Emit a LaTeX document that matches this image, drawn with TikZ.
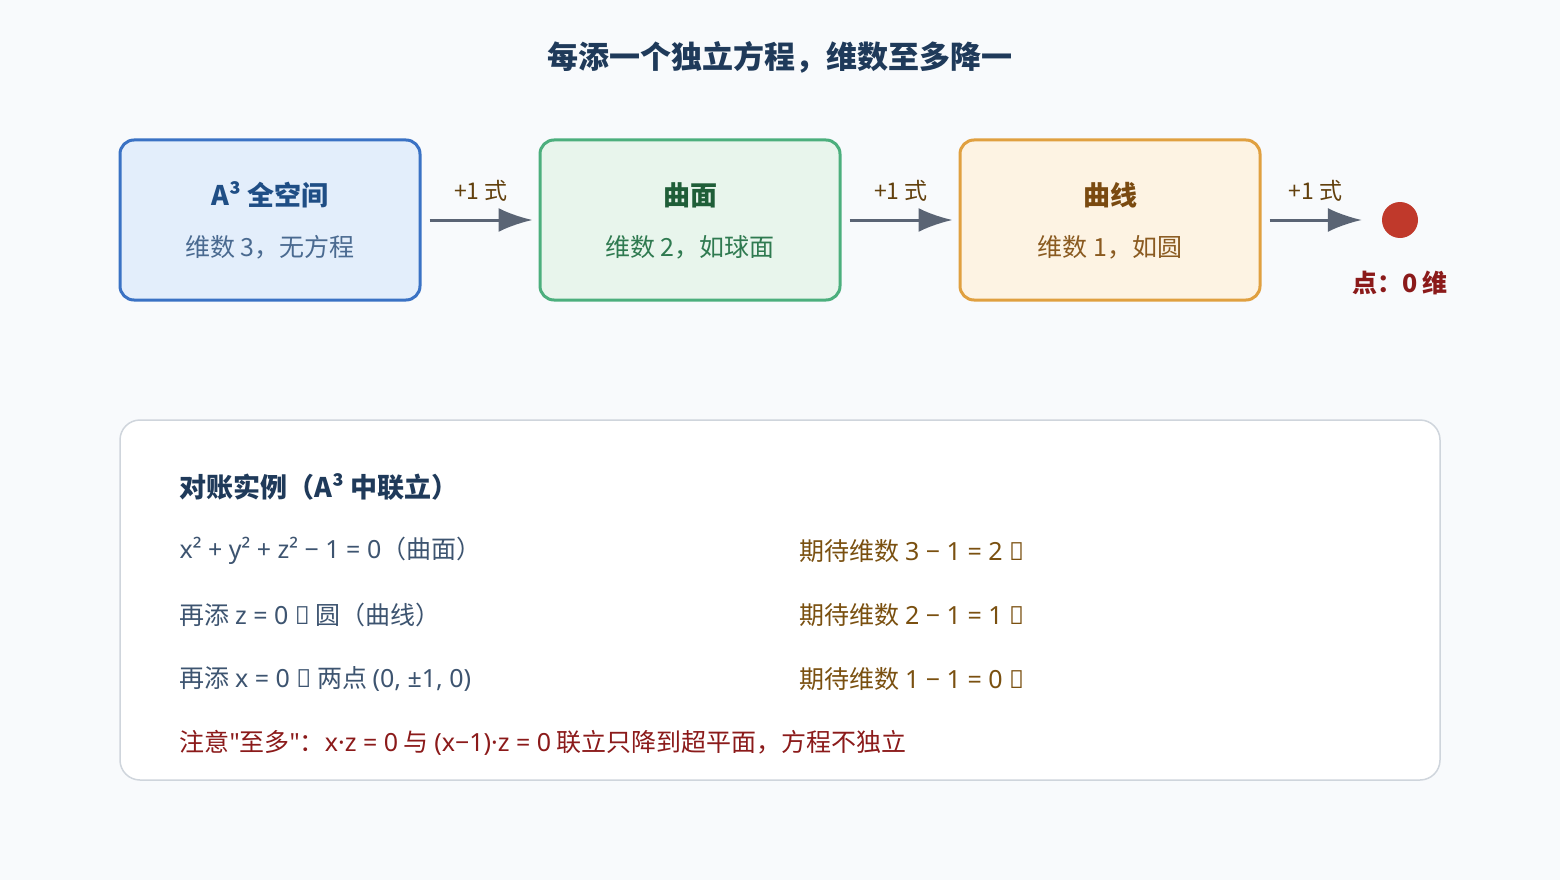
\documentclass[tikz,border=0pt]{standalone}
\usepackage{fontspec}
\setmainfont{Noto Sans CJK SC}[Ligatures=NoCommon]
\newfontfamily\lat{Noto Sans}
\usetikzlibrary{positioning,arrows.meta}
\definecolor{bgc}{HTML}{F8FAFC}
\definecolor{navy}{HTML}{1F3A5A}
\definecolor{arrc}{HTML}{5A6474}
\definecolor{dotc}{HTML}{C0392B}
\definecolor{redt}{HTML}{8B1A1A}
\definecolor{leftt}{HTML}{3D5470}
\definecolor{rightt}{HTML}{7A5010}
\tikzset{
  stage/.style={rectangle, rounded corners=14pt, line width=3pt, minimum width=300pt, minimum height=160pt},
  addeq/.style={line width=3pt, draw=arrc, -{Latex[length=34pt,width=24pt]}},
  addlbl/.style={font=\fontsize{23}{27}\selectfont, text=rightt!80!black},
  row/.style={anchor=west, font=\fontsize{25}{29}\selectfont}
}
\begin{document}
\begin{tikzpicture}[x=1pt,y=-1pt]
    \fill [bgc] (0,0) rectangle (1560,880);
    \node (title) [font=\fontsize{31}{36}\selectfont\bfseries, text=navy] at (780,57) {每添一个独立方程，维数至多降一};

    \node (full) [stage, fill={rgb,255:red,227;green,238;blue,251}, draw={rgb,255:red,58;green,114;blue,196}] at (270,220) {};
    \node (surf) [stage, fill={rgb,255:red,232;green,245;blue,236}, draw={rgb,255:red,76;green,175;blue,125}] at (690,220) {};
    \node (curve) [stage, fill={rgb,255:red,253;green,243;blue,227}, draw={rgb,255:red,224;green,160;blue,64}] at (1110,220) {};
    \node (pt) [circle, fill=dotc, minimum size=36pt, inner sep=0pt] at (1400,220) {};

    \node [font=\fontsize{27}{31}\selectfont\bfseries, text={rgb,255:red,31;green,78;blue,133}] at (270,195) {A³ 全空间};
    \node [font=\fontsize{25}{29}\selectfont, text={rgb,255:red,74;green,106;blue,144}] at (270,247) {维数 3，无方程};
    \node [font=\fontsize{27}{31}\selectfont\bfseries, text={rgb,255:red,31;green,94;blue,56}] at (690,195) {曲面};
    \node [font=\fontsize{25}{29}\selectfont, text={rgb,255:red,47;green,122;blue,80}] at (690,247) {维数 2，如球面};
    \node [font=\fontsize{27}{31}\selectfont\bfseries, text={rgb,255:red,122;green,74;blue,16}] at (1110,195) {曲线};
    \node [font=\fontsize{25}{29}\selectfont, text={rgb,255:red,138;green,90;blue,32}] at (1110,247) {维数 1，如圆};
    \node (ptlbl) [font=\fontsize{25}{29}\selectfont\bfseries, text=redt] at (1400,283) {点：0 维};

    \draw [addeq] ([xshift=8pt]full.east) -- node[above=14pt, addlbl] {+1 式} ([xshift=-6pt]surf.west);
    \draw [addeq] ([xshift=8pt]surf.east) -- node[above=14pt, addlbl] {+1 式} ([xshift=-6pt]curve.west);
    \draw [addeq] ([xshift=8pt]curve.east) -- node[above=14pt, addlbl] {+1 式} ([xshift=-20pt]pt.west);

    % check panel
    \node (panel) [rectangle, rounded corners=20pt, draw={rgb,255:red,207;green,213;blue,220}, line width=1.5pt, fill=white, minimum width=1320pt, minimum height=360pt] at (780,600) {};
    \node [row, font=\fontsize{27}{31}\selectfont\bfseries, text=navy] at (176,487) {对账实例（A³ 中联立）};
    \node [row, text=leftt] at (176,551) {{\lat x² + y² + z² − 1 = 0}（曲面）};
    \node [row, text=rightt] at (796,551) {期待维数 {\lat 3 − 1 = 2 ✓}};
    \node [row, text=leftt] at (176,615) {再添 {\lat z = 0 →} 圆（曲线）};
    \node [row, text=rightt] at (796,615) {期待维数 {\lat 2 − 1 = 1 ✓}};
    \node [row, text=leftt] at (176,679) {再添 {\lat x = 0 →} 两点 {\lat (0, ±1, 0)}};
    \node [row, text=rightt] at (796,679) {期待维数 {\lat 1 − 1 = 0 ✓}};
    \node [row, text=redt] at (176,743) {注意{\lat "}至多{\lat "}：{\lat x·z = 0} 与 {\lat (x−1)·z = 0} 联立只降到超平面，方程不独立};
\end{tikzpicture}
\end{document}
